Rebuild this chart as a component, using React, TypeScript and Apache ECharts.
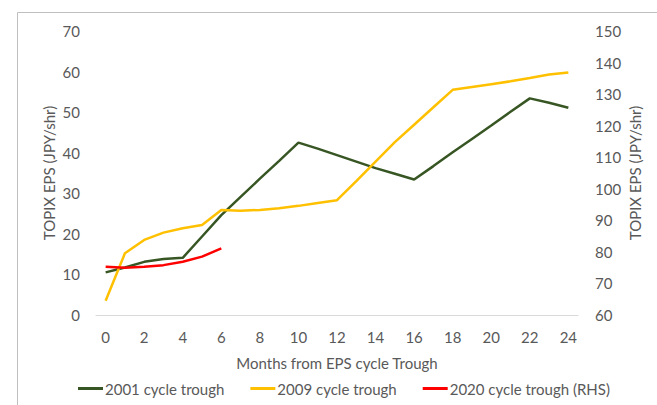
import React, { useEffect, useRef } from "react";
import * as echarts from "echarts";

const months = Array.from({ length: 25 }, (_, i) => String(i));
const cycle2001 = [10.5, 11.7, 13.1, 13.8, 14.1, 19.35, 24.6, 29.1, 33.6, 38.0, 42.5, 41.0, 39.4, 37.8, 36.2, 34.8, 33.4, 36.7, 40.1, 43.4, 46.7, 50.1, 53.4, 52.3, 51.1];
const cycle2009 = [3.5, 15.2, 18.5, 20.3, 21.4, 22.2, 25.9, 25.7, 25.9, 26.3, 26.9, 27.6, 28.3, 33.0, 37.8, 42.6, 46.9, 51.2, 55.5, 56.2, 56.9, 57.6, 58.4, 59.3, 59.8];
const cycle2020 = [75.3, 75.0, 75.3, 75.8, 76.9, 78.5, 81.1];

const names = ["2001 cycle trough", "2009 cycle trough", "2020 cycle trough (RHS)"];
const colors = ["#375623", "#FFC000", "#FF0000"];

const FONT = "Lato";
const TXT = "#595959";
const FS = 15;

export default function App() {
  const ref = useRef<HTMLDivElement>(null);
  useEffect(() => {
    if (!ref.current) return;
    const chart = echarts.init(ref.current, null, { renderer: "svg" });
    chart.setOption({
      animation: false,
      backgroundColor: "#ffffff",
      textStyle: { fontFamily: FONT, color: TXT },
      graphic: [
        {
          type: "rect",
          left: 15,
          top: 10,
          shape: { x: 0, y: 0, width: 700, height: 500 },
          style: { fill: "none", stroke: "#BFBFBF", lineWidth: 1 },
          silent: true,
        },
      ],
      grid: { left: 96, right: 79, top: 31, bottom: 90, containLabel: false },
      legend: {
        bottom: 4,
        left: 73,
        itemWidth: 25,
        itemHeight: 3,
        itemGap: 26,
        icon: "rect",
        textStyle: { fontFamily: FONT, fontSize: FS, color: TXT, padding: [0, 0, 0, -3] },
        data: names,
      },
      xAxis: {
        type: "category",
        data: months,
        boundaryGap: true,
        name: "Months from EPS cycle Trough",
        nameLocation: "middle",
        nameGap: 40,
        nameTextStyle: { fontFamily: FONT, fontSize: FS, color: TXT },
        axisLine: { show: true, lineStyle: { color: "#D9D9D9", width: 1 } },
        axisTick: { show: false },
        axisLabel: { interval: 1, fontFamily: FONT, fontSize: FS, color: TXT, margin: 14 },
        splitLine: { show: false },
      },
      yAxis: [
        {
          type: "value",
          min: 0,
          max: 70,
          interval: 10,
          name: "TOPIX EPS (JPY/shr)",
          nameLocation: "middle",
          nameGap: 40,
          nameMoveOverlap: false,
          nameRotate: 90,
          nameTextStyle: { fontFamily: FONT, fontSize: FS, color: TXT },
          axisLine: { show: false },
          axisTick: { show: false },
          splitLine: { show: false },
          axisLabel: { fontFamily: FONT, fontSize: FS, color: TXT, margin: 16 },
        },
        {
          type: "value",
          min: 60,
          max: 150,
          interval: 10,
          name: "TOPIX EPS (JPY/shr)",
          nameLocation: "middle",
          nameGap: 49,
          nameMoveOverlap: false,
          nameRotate: 90,
          nameTextStyle: { fontFamily: FONT, fontSize: FS, color: TXT },
          axisLine: { show: false },
          axisTick: { show: false },
          splitLine: { show: false },
          axisLabel: { fontFamily: FONT, fontSize: FS, color: TXT, margin: 17 },
        },
      ],
      series: [
        {
          name: names[0],
          type: "line",
          data: cycle2001,
          yAxisIndex: 0,
          symbol: "none",
          lineStyle: { color: colors[0], width: 2.5 },
          itemStyle: { color: colors[0] },
          z: 2,
        },
        {
          name: names[1],
          type: "line",
          data: cycle2009,
          yAxisIndex: 0,
          symbol: "none",
          lineStyle: { color: colors[1], width: 2.5 },
          itemStyle: { color: colors[1] },
          z: 3,
        },
        {
          name: names[2],
          type: "line",
          data: cycle2020,
          yAxisIndex: 1,
          symbol: "none",
          lineStyle: { color: colors[2], width: 2.5 },
          itemStyle: { color: colors[2] },
          z: 4,
        },
      ],
    });
    return () => chart.dispose();
  }, []);
  return (
    <div
      ref={ref}
      style={{ position: "fixed", left: 0, top: 0, width: 657, height: 405 }}
    />
  );
}
